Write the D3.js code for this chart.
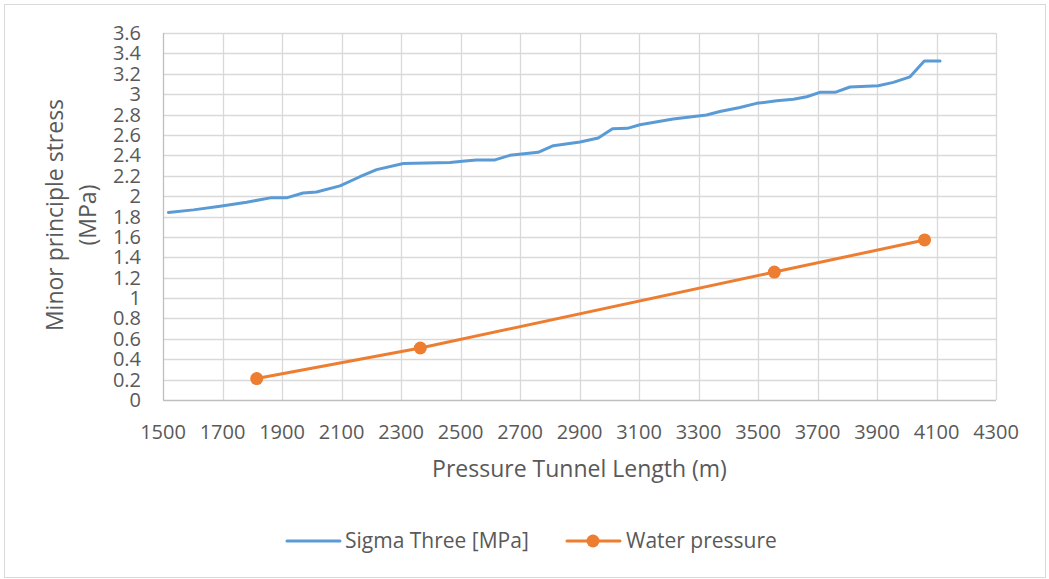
<!DOCTYPE html>
<html>
<head>
<meta charset="utf-8">
<script src="https://cdn.jsdelivr.net/npm/d3@7"></script>
<style>
  body { margin: 0; background: #fff; }
  text { font-family: "Open Sans", sans-serif; fill: #595959; }
</style>
</head>
<body>
<svg></svg>
<script>
var width = 1049;
var height = 579;

// Sigma Three [MPa] along tunnel
var sigmaX = [1518, 1602, 1692, 1781, 1865, 1918, 1971, 2016, 2095, 2162, 2218, 2308, 2465, 2515,
    2554, 2616, 2666, 2761, 2812, 2902, 2963, 3011, 3061, 3103, 3215, 3327, 3372, 3439, 3495, 3563,
    3619, 3664, 3708, 3759, 3809, 3904, 3955, 4011, 4059, 4112];
var sigmaY = [1.84, 1.865, 1.90, 1.94, 1.985, 1.985, 2.03, 2.04, 2.10, 2.19, 2.26, 2.32, 2.33, 2.345,
    2.355, 2.355, 2.40, 2.43, 2.495, 2.53, 2.57, 2.66, 2.665, 2.70, 2.757, 2.796, 2.83, 2.87, 2.91, 2.935,
    2.95, 2.975, 3.018, 3.018, 3.07, 3.083, 3.116, 3.17, 3.325, 3.325];

// Water pressure
var waterX = [1815, 2365, 3555, 4060];
var waterY = [0.21, 0.51, 1.255, 1.57];

var xTicks = d3.range(1500, 4301, 200);
var yTicks = d3.range(0, 19).map(i => +(i * 0.2).toFixed(1));

var blue = '#5B9BD5';
var orange = '#ED7D31';

var svg = d3.select('svg')
    .attr('width', width)
    .attr('height', height);

svg.append('rect')
    .attr('x', 4.5).attr('y', 4.5)
    .attr('width', 1041).attr('height', 573)
    .attr('fill', '#fff')
    .attr('stroke', '#D9D9D9');

var x = d3.scaleLinear().domain([1500, 4300]).range([163, 996]);
var y = d3.scaleLinear().domain([0, 3.6]).range([400, 33]);

// grid
svg.append('g')
    .selectAll('line.h')
    .data(yTicks.slice(1))
    .enter()
    .append('line')
        .attr('x1', x(1500)).attr('x2', x(4300))
        .attr('y1', d => Math.round(y(d)) + 0.5)
        .attr('y2', d => Math.round(y(d)) + 0.5)
        .attr('stroke', '#D9D9D9')
        .attr('stroke-width', 1.3);

svg.append('g')
    .selectAll('line.v')
    .data(xTicks.slice(1))
    .enter()
    .append('line')
        .attr('y1', y(0)).attr('y2', y(3.6))
        .attr('x1', d => Math.round(x(d)) + 0.5)
        .attr('x2', d => Math.round(x(d)) + 0.5)
        .attr('stroke', '#D9D9D9')
        .attr('stroke-width', 1.3);

// axes lines
svg.append('line')
    .attr('x1', x(1500)).attr('x2', x(4300))
    .attr('y1', Math.round(y(0)) + 0.5).attr('y2', Math.round(y(0)) + 0.5)
    .attr('stroke', '#BFBFBF').attr('stroke-width', 1.3);
svg.append('line')
    .attr('x1', Math.round(x(1500)) + 0.5).attr('x2', Math.round(x(1500)) + 0.5)
    .attr('y1', y(0)).attr('y2', y(3.6))
    .attr('stroke', '#BFBFBF').attr('stroke-width', 1.3);

// tick labels
svg.append('g')
    .selectAll('text')
    .data(yTicks)
    .enter()
    .append('text')
        .attr('x', 141)
        .attr('y', d => y(d))
        .attr('dy', '0.35em')
        .attr('text-anchor', 'end')
        .style('font-size', '20px')
        .text(d => d);

svg.append('g')
    .selectAll('text')
    .data(xTicks)
    .enter()
    .append('text')
        .attr('x', d => x(d))
        .attr('y', 432)
        .attr('dy', '0.35em')
        .attr('text-anchor', 'middle')
        .style('font-size', '20px')
        .text(d => d);

// axis titles
svg.append('text')
    .attr('x', (x(1500) + x(4300)) / 2)
    .attr('y', 469)
    .attr('dy', '0.35em')
    .attr('text-anchor', 'middle')
    .style('font-size', '23px')
    .text('Pressure Tunnel Length (m)');

var yTitle = svg.append('text')
    .attr('transform', 'translate(0, 215) rotate(-90)')
    .attr('text-anchor', 'middle')
    .style('font-size', '23px');
yTitle.append('tspan').attr('x', 0).attr('y', 55).attr('dy', '0.35em').text('Minor principle stress');
yTitle.append('tspan').attr('x', 0).attr('y', 88).attr('dy', '0.35em').text('(MPa)');

// series
var line = d3.line()
    .x(d => x(d[0]))
    .y(d => y(d[1]));

svg.append('path')
    .datum(d3.zip(sigmaX, sigmaY))
    .attr('fill', 'none')
    .attr('stroke', blue)
    .attr('stroke-width', 3)
    .attr('stroke-linejoin', 'round')
    .attr('stroke-linecap', 'round')
    .attr('d', line);

var water = d3.zip(waterX, waterY);
svg.append('path')
    .datum(water)
    .attr('fill', 'none')
    .attr('stroke', orange)
    .attr('stroke-width', 3)
    .attr('stroke-linecap', 'round')
    .attr('d', line);

svg.append('g')
    .selectAll('circle')
    .data(water)
    .enter()
    .append('circle')
        .attr('cx', d => x(d[0]))
        .attr('cy', d => y(d[1]))
        .attr('r', 6.5)
        .attr('fill', orange);

// legend
var legend = svg.append('g');
legend.append('line')
    .attr('x1', 287).attr('x2', 340)
    .attr('y1', 541).attr('y2', 541)
    .attr('stroke', blue).attr('stroke-width', 3).attr('stroke-linecap', 'round');
legend.append('text')
    .attr('x', 345).attr('y', 541).attr('dy', '0.35em')
    .style('font-size', '21px')
    .text('Sigma Three [MPa]');
legend.append('line')
    .attr('x1', 567).attr('x2', 620)
    .attr('y1', 541).attr('y2', 541)
    .attr('stroke', orange).attr('stroke-width', 3).attr('stroke-linecap', 'round');
legend.append('circle')
    .attr('cx', 593).attr('cy', 541).attr('r', 6.5)
    .attr('fill', orange);
legend.append('text')
    .attr('x', 626).attr('y', 541).attr('dy', '0.35em')
    .style('font-size', '21px')
    .text('Water pressure');
</script>
</body>
</html>
